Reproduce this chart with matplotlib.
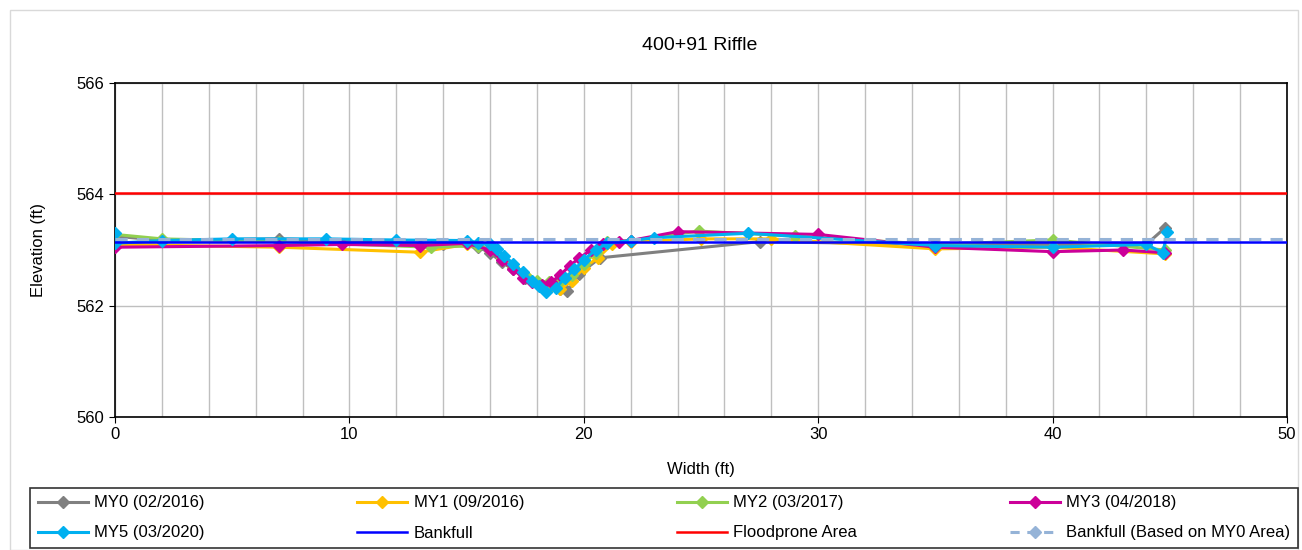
import matplotlib
matplotlib.use("Agg")
import matplotlib.pyplot as plt
from matplotlib.patches import Rectangle

plt.rcParams['font.family'] = ['Liberation Sans', 'DejaVu Sans']

# ---- data ----
my0_x = [0, 2, 7, 14, 15.5, 16, 16.5, 17, 17.5, 18, 18.5, 19, 19.3, 19.8, 20.7, 27.5, 35, 40, 44, 44.8]
my0_y = [563.25, 563.17, 563.2, 563.1, 563.05, 562.95, 562.78, 562.65, 562.5, 562.4, 562.33, 562.3, 562.26, 562.57, 562.86, 563.15, 563.1, 563.1, 563.1, 563.4]

my1_x = [0, 7, 13, 15, 16, 16.5, 17, 17.5, 18, 18.5, 19, 19.5, 20, 20.6, 21.2, 22, 25, 28, 35, 40, 44.8]
my1_y = [563.1, 563.05, 562.96, 563.1, 563.02, 562.85, 562.7, 562.55, 562.4, 562.32, 562.3, 562.45, 562.68, 562.86, 563.1, 563.15, 563.2, 563.2, 563.02, 563.05, 562.93]

my2_x = [0, 2, 7, 13.5, 15.5, 16, 16.5, 17, 17.5, 18, 18.5, 19, 19.5, 20, 20.5, 21, 22, 24.9, 29, 35, 40, 44.8]
my2_y = [563.28, 563.2, 563.15, 563.05, 563.08, 563.0, 562.85, 562.7, 562.55, 562.45, 562.42, 562.45, 562.55, 562.75, 562.95, 563.15, 563.17, 563.34, 563.25, 563.1, 563.18, 563.0]

my3_x = [0, 7, 9.7, 13, 15, 16, 16.5, 17, 17.4, 17.8, 18.2, 18.6, 19, 19.4, 19.8, 20.3, 20.8, 21.5, 22, 24, 30, 35, 40, 43, 44.8]
my3_y = [563.05, 563.08, 563.1, 563.08, 563.12, 563.0, 562.82, 562.65, 562.5, 562.42, 562.38, 562.42, 562.55, 562.72, 562.85, 563.0, 563.1, 563.15, 563.17, 563.33, 563.28, 563.05, 562.97, 563.0, 562.95]

my5_x = [0, 0, 2, 5, 9, 12, 15, 15.5, 16, 16.3, 16.6, 17, 17.4, 17.8, 18.1, 18.4, 18.8, 19.2, 19.6, 20, 20.5, 21, 22, 23, 27, 35, 40, 44, 44.7, 44.9]
my5_y = [563.3, 563.12, 563.17, 563.2, 563.2, 563.18, 563.17, 563.13, 563.1, 563.02, 562.9, 562.75, 562.6, 562.45, 562.35, 562.25, 562.32, 562.5, 562.65, 562.82, 563.0, 563.12, 563.17, 563.22, 563.3, 563.08, 563.05, 563.1, 562.95, 563.33]

bankfull = 563.15
floodprone = 564.02
bankfull_my0 = 563.2

series = [
    ("MY0 (02/2016)", my0_x, my0_y, "#808080"),
    ("MY1 (09/2016)", my1_x, my1_y, "#FFC000"),
    ("MY2 (03/2017)", my2_x, my2_y, "#92D050"),
    ("MY3 (04/2018)", my3_x, my3_y, "#CC0099"),
    ("MY5 (03/2020)", my5_x, my5_y, "#00B0F0"),
]

fig = plt.figure(figsize=(13.02, 5.5), dpi=100)
ax = fig.add_axes([115/1302, 1-417/550, (1287-115)/1302, (417-83)/550])

handles = {}
for name, xs, ys, c in series:
    h, = ax.plot(xs, ys, color=c, lw=2.2, marker='D', markersize=6.5, label=name, zorder=3)
    handles[name] = h

hb = ax.axhline(bankfull, color="#0000FF", lw=1.8, zorder=4)
hf = ax.axhline(floodprone, color="#FF0000", lw=1.8, zorder=4)
hd = ax.axhline(bankfull_my0, color="#95B3D7", lw=2.2, ls=(0, (4, 3)), zorder=4)
hd_leg, = ax.plot([], [], color="#95B3D7", lw=2.2, ls=(0, (3, 2.5)), marker='D', markersize=6)

ax.set_xlim(0, 50)
ax.set_ylim(560, 566)
ax.set_xticks([0, 10, 20, 30, 40, 50])
ax.set_xticks(range(0, 51, 2), minor=True)
ax.set_yticks([560, 562, 564, 566])
ax.grid(True, which='both', color='#BFBFBF', lw=1, zorder=0)
ax.tick_params(which='minor', length=0)
ax.tick_params(which='major', labelsize=12, direction='out', length=4)
for s in ax.spines.values():
    s.set_color('black')
    s.set_linewidth(1.2)

ax.set_xlabel("Width (ft)", fontsize=12, labelpad=14)
ax.set_ylabel("Elevation (ft)", fontsize=12, labelpad=22)
fig.text(700/1302, 1-45/550, "400+91 Riffle", ha='center', va='center', fontsize=14)

# outer chart border
fig.add_artist(Rectangle((10/1302, 0), 1288/1302, 1-10/550, transform=fig.transFigure,
                         fill=False, edgecolor='#D9D9D9', lw=1))

row1 = [handles[s[0]] for s in series[:4]]
row1_lbl = [s[0] for s in series[:4]]
row2 = [handles["MY5 (03/2020)"], hb, hf, hd_leg]
row2_lbl = ["MY5 (03/2020)", "Bankfull", "Floodprone Area", "Bankfull (Based on MY0 Area)"]
leg_handles, leg_labels = [], []
for i in range(4):
    leg_handles += [row1[i], row2[i]]
    leg_labels += [row1_lbl[i], row2_lbl[i]]

leg = fig.legend(leg_handles, leg_labels, ncol=4, loc='lower left',
                 bbox_to_anchor=(30/1302, 2/550, 1268/1302, 65/550), mode='expand',
                 fontsize=12, frameon=True, fancybox=False, edgecolor='black',
                 handlelength=3.0, handletextpad=0.4, borderaxespad=0, labelspacing=0.9,
                 borderpad=0.45)
leg.get_frame().set_linewidth(1.2)

fig.savefig("out.png", dpi=100)
